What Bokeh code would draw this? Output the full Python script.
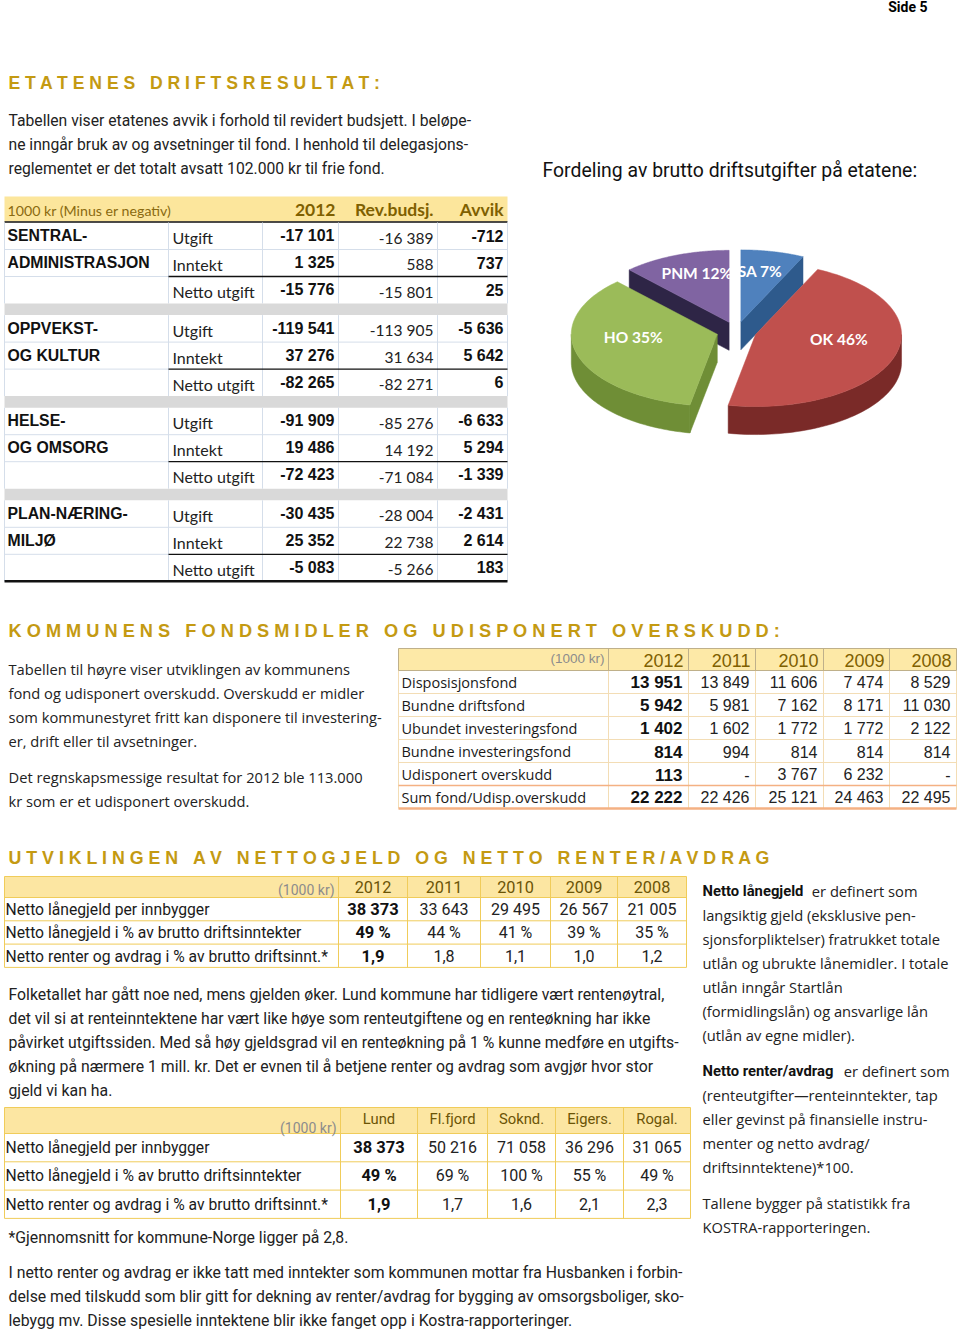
import numpy as np
from bokeh.plotting import figure
from bokeh.models import Range1d, ColumnDataSource
from bokeh.core.properties import value
from bokeh.embed import file_html
from bokeh.resources import INLINE

# ---------------- data ----------------
t1_sector_l1 = ["SENTRAL-", "OPPVEKST-", "HELSE-", "PLAN-NÆRING-"]
t1_sector_l2 = ["ADMINISTRASJON", "OG KULTUR", "OG OMSORG", "MILJØ"]
t1_types = ["Utgift", "Inntekt", "Netto utgift"]
t1_headers = ["2012", "Rev.budsj.", "Avvik"]
t1_2012 = [[-17101, 1325, -15776], [-119541, 37276, -82265],
           [-91909, 19486, -72423], [-30435, 25352, -5083]]
t1_rev = [[-16389, 588, -15801], [-113905, 31634, -82271],
          [-85276, 14192, -71084], [-28004, 22738, -5266]]
t1_avvik = [[-712, 737, 25], [-5636, 5642, 6],
            [-6633, 5294, -1339], [-2431, 2614, 183]]

pie_labels = ["SA", "OK", "HO", "PNM"]
pie_pct = [7, 46, 35, 12]

t2_rows = ["Disposisjonsfond", "Bundne driftsfond", "Ubundet investeringsfond",
           "Bundne investeringsfond", "Udisponert overskudd", "Sum fond/Udisp.overskudd"]
t2_years = ["2012", "2011", "2010", "2009", "2008"]
t2_disp = [13951, 13849, 11606, 7474, 8529]
t2_bdrift = [5942, 5981, 7162, 8171, 11030]
t2_ubinv = [1402, 1602, 1772, 1772, 2122]
t2_binv = [814, 994, 814, 814, 814]
t2_udisp = [113, None, 3767, 6232, None]
t2_sum = [22222, 22426, 25121, 24463, 22495]

t3_rows = ["Netto lånegjeld per innbygger",
           "Netto lånegjeld i % av brutto driftsinntekter",
           "Netto renter og avdrag i % av brutto driftsinnt.*"]
t3_years = ["2012", "2011", "2010", "2009", "2008"]
t3_gjeld = [38373, 33643, 29495, 26567, 21005]
t3_gjeld_pct = [49, 44, 41, 39, 35]
t3_renter = [1.9, 1.8, 1.1, 1.0, 1.2]

t4_munis = ["Lund", "Fl.fjord", "Soknd.", "Eigers.", "Rogal."]
t4_gjeld = [38373, 50216, 71058, 36296, 31065]
t4_gjeld_pct = [49, 69, 100, 55, 49]
t4_renter = [1.9, 1.7, 1.6, 2.1, 2.3]

# ---------------- helpers ----------------
COND = "Roboto"
SANS = "Liberation Sans"
BODY = "Open Sans"
CAL = "Lato"
GOLD = "#C49A12"

p = figure(width=960, height=1330, x_range=Range1d(0, 960), y_range=Range1d(1330, 0),
           output_backend="svg", toolbar_location=None, min_border=0)
p.axis.visible = False
p.grid.visible = False
p.outline_line_color = None
p.background_fill_color = "white"
p.border_fill_color = "white"


def txt(xs, ys, texts, size, font=SANS, bold=False, color="#222222", align="left", baseline="middle"):
    src = ColumnDataSource(dict(x=list(xs), y=list(ys), t=list(texts)))
    p.text(x="x", y="y", text="t", source=src, text_font=value(font),
           text_font_size=f"{size:.1f}px", text_font_style="bold" if bold else "normal",
           text_color=color, text_align=align, text_baseline=baseline)


def hline(x0, x1, y, color, w=1.0):
    p.segment(x0=[x0], y0=[y], x1=[x1], y1=[y], line_color=color, line_width=w)


def vline(x, y0, y1, color, w=1.0):
    p.segment(x0=[x], y0=[y0], x1=[x], y1=[y1], line_color=color, line_width=w)


def box(l, r, t, b, color):
    p.quad(left=[l], right=[r], top=[t], bottom=[b], fill_color=color, line_color=None)


def fint(v):
    return "-" if v is None else f"{v:,}".replace(",", " ")


def fpct(v):
    return f"{v} %"


def fdec(v):
    return f"{v:.1f}".replace(".", ",")


def spaced(s, gap=3):
    return ("\u00a0" * gap).join(" ".join(w) for w in s.split(" "))


# ---------------- page header / headings ----------------
txt([927], [6], ["Side 5"], 14, COND, True, "#000000", "right")
txt([8], [82], [spaced("ETATENES DRIFTSRESULTAT:")], 17.6, SANS, True, GOLD)
txt([8], [630], [spaced("KOMMUNENS FONDSMIDLER OG UDISPONERT OVERSKUDD:")], 18.2, SANS, True, GOLD)
txt([8], [857], [spaced("UTVIKLINGEN AV NETTOGJELD OG NETTO RENTER/AVDRAG")], 17.8, SANS, True, GOLD)

para1 = ["Tabellen viser etatenes avvik i forhold til revidert budsjett. I beløpe-",
         "ne inngår bruk av og avsetninger til fond. I henhold til delegasjons-",
         "reglementet er det totalt avsatt 102.000 kr til frie fond."]
txt([8] * 3, [120, 144, 168], para1, 15.7, COND, False, "#222222")
txt([542], [170], ["Fordeling av brutto driftsutgifter på etatene:"], 19.4, COND, False, "#111111")

# ---------------- table 1 ----------------
T1_X = [4, 168, 262, 338, 437, 507]
T1_HEAD = (196, 221)
T1_G0, T1_GSTEP, T1_ROWH = 222, 92.6, 27
LIGHT1 = "#D5DEEA"

box(T1_X[0], T1_X[-1], T1_HEAD[0], T1_HEAD[1], "#FCE69C")
txt([7], [210], ["1000 kr (Minus er negativ)"], 14.2, CAL, False, "#8A6A10")
txt([T1_X[3] - 3, T1_X[4] - 4, T1_X[5] - 4], [209] * 3, t1_headers, 17.5, CAL, True, "#7F6000", "right")
hline(T1_X[0], T1_X[-1], 221.5, "#111111", 1.3)

n_x, n_y, n_t = [], [], []
ty_x, ty_y, ty_t = [], [], []
b_x, b_y, b_t = [], [], []
r_x, r_y, r_t = [], [], []
for g in range(4):
    gs = T1_G0 + g * T1_GSTEP
    ge = gs + 3 * T1_ROWH
    hline(T1_X[0], T1_X[-1], gs + T1_ROWH, LIGHT1, 1)
    hline(T1_X[0], T1_X[1], gs + 2 * T1_ROWH, LIGHT1, 1)
    for xv in T1_X:
        vline(xv, gs, ge, LIGHT1, 1)
    hline(T1_X[1], T1_X[-1], gs + 2 * T1_ROWH, "#111111", 1.3)
    if g < 3:
        box(T1_X[0], T1_X[-1], ge, gs + T1_GSTEP, "#D9D9D9")
    else:
        hline(T1_X[0], T1_X[-1], ge, "#111111", 2.5)
    n_x += [7, 7]
    n_y += [gs + 13, gs + 40]
    n_t += [t1_sector_l1[g], t1_sector_l2[g]]
    for r in range(3):
        ty_x.append(T1_X[1] + 4)
        ty_y.append(gs + 15 + r * T1_ROWH)
        ty_t.append(t1_types[r])
        b_x += [T1_X[3] - 4, T1_X[5] - 4]
        b_y += [gs + 13 + r * T1_ROWH] * 2
        b_t += [fint(t1_2012[g][r]), fint(t1_avvik[g][r])]
        r_x.append(T1_X[4] - 4)
        r_y.append(gs + 15 + r * T1_ROWH)
        r_t.append(fint(t1_rev[g][r]))
txt(n_x, n_y, n_t, 15.8, SANS, True, "#111111")
txt(ty_x, ty_y, ty_t, 16, CAL, False, "#222222")
txt(b_x, b_y, b_t, 16, SANS, True, "#111111", "right")
txt(r_x, r_y, r_t, 15.5, CAL, False, "#222222", "right")

# ---------------- 3D pie ----------------
top_cols = ["#4F81BD", "#C0504D", "#9BBB59", "#8064A2"]
side_cols = ["#2E5A8C", "#7A2A28", "#6F8E36", "#2E2546"]
cx, cy, rx, ry, depth, expl = 736, 331, 146, 72, 28, 20
kk = ry / rx
cum = np.concatenate([[0], np.cumsum(pie_pct)]) / sum(pie_pct) * 360.0
slices = []
for i in range(len(pie_pct)):
    a1, a2 = cum[i], cum[i + 1]
    mid = np.radians((a1 + a2) / 2)
    ox = expl * np.sin(mid)
    oy = -expl * kk * np.cos(mid)
    slices.append((oy, i, a1, a2, ox, mid))


def pt(ox, oy, a, dz=0.0):
    ar = np.radians(a)
    return cx + ox + rx * np.sin(ar), cy + oy - ry * np.cos(ar) + dz


lab_x, lab_y, lab_t = [], [], []
for oy, i, a1, a2, ox, mid in sorted(slices):
    side_xs, side_ys = [], []
    C = (cx + ox, cy + oy)
    if np.sin(np.radians(a1)) < -1e-6:
        P0 = pt(ox, oy, a1)
        P1 = pt(ox, oy, a1, depth)
        side_xs.append([C[0], P0[0], P1[0], C[0]])
        side_ys.append([C[1], P0[1], P1[1], C[1] + depth])
    if np.sin(np.radians(a2)) > 1e-6:
        P0 = pt(ox, oy, a2)
        P1 = pt(ox, oy, a2, depth)
        side_xs.append([C[0], P0[0], P1[0], C[0]])
        side_ys.append([C[1], P0[1], P1[1], C[1] + depth])
    lo, hi = max(a1, 90.0), min(a2, 270.0)
    if hi > lo:
        arc = np.linspace(lo, hi, 60)
        tx = [pt(ox, oy, a)[0] for a in arc]
        tyv = [pt(ox, oy, a)[1] for a in arc]
        side_xs.append(tx + tx[::-1])
        side_ys.append(tyv + [v + depth for v in tyv[::-1]])
    if side_xs:
        p.patches(xs=side_xs, ys=side_ys, fill_color=side_cols[i], line_color=side_cols[i], line_width=0.5)
    arc = np.linspace(a1, a2, 80)
    fx = [C[0]] + [pt(ox, oy, a)[0] for a in arc]
    fy = [C[1]] + [pt(ox, oy, a)[1] for a in arc]
    p.patch(x=fx, y=fy, fill_color=top_cols[i], line_color=top_cols[i], line_width=0.5)
    lab_x.append(C[0] + 0.6 * rx * np.sin(mid))
    lab_y.append(C[1] - 0.6 * ry * np.cos(mid) - 9)
    lab_t.append(f"{pie_labels[i]} {pie_pct[i]}%")
txt(lab_x, lab_y, lab_t, 15.5, CAL, True, "white", "center")

# ---------------- section 2 text ----------------
para2 = ["Tabellen til høyre viser utviklingen av  kommunens",
         "fond og udisponert overskudd.  Overskudd er midler",
         "som kommunestyret fritt kan disponere til investering-",
         "er, drift eller til avsetninger."]
txt([8] * 4, [668, 692, 716, 740], para2, 14.7, BODY, False, "#222222")
para3 = ["Det regnskapsmessige resultat for 2012 ble 113.000",
         "kr som er et udisponert overskudd."]
txt([8] * 2, [776, 800], para3, 14.7, BODY, False, "#222222")

# ---------------- table 2 ----------------
T2_X = [398, 608, 688, 755, 823, 889, 956]
T2_TOP, T2_HEADH, T2_ROWH = 648, 22, 23
T2_HB = T2_TOP + T2_HEADH
t2_vals = [t2_disp, t2_bdrift, t2_ubinv, t2_binv, t2_udisp, t2_sum]
box(T2_X[0], T2_X[-1], T2_TOP, T2_HB, "#FDE9A7")
GRID2 = "#F3DDB5"
for i in range(1, 5):
    hline(T2_X[0], T2_X[-1], T2_HB + i * T2_ROWH, GRID2, 1)
for xv in T2_X:
    vline(xv, T2_HB, T2_HB + 6 * T2_ROWH, GRID2, 1)
    vline(xv, T2_TOP, T2_HB, "#BFB08A", 1)
hline(T2_X[0], T2_X[-1], T2_TOP, "#BFB08A", 1)
hline(T2_X[0], T2_X[-1], T2_HB, "#BFB08A", 1)
hline(T2_X[0], T2_X[-1], T2_HB + 5 * T2_ROWH, "#F4B183", 1.5)
hline(T2_X[0], T2_X[-1], T2_HB + 6 * T2_ROWH, "#F4B183", 2.5)
txt([T2_X[1] - 4], [T2_TOP + 10], ["(1000 kr)"], 13.5, SANS, False, "#8C8C8C", "right")
txt([T2_X[j + 2] - 5 for j in range(5)], [T2_TOP + 12] * 5, t2_years, 18, SANS, False, "#7F6000", "right")
txt([401] * 6, [T2_HB + 12 + i * T2_ROWH for i in range(6)], t2_rows, 14.5, BODY, False, "#1A1A1A")
bx, by, bt, vx, vy, vt = [], [], [], [], [], []
for i, row in enumerate(t2_vals):
    yc = T2_HB + 12 + i * T2_ROWH
    for j, v in enumerate(row):
        if j == 0:
            bx.append(T2_X[2] - 6); by.append(yc); bt.append(fint(v))
        else:
            vx.append(T2_X[j + 2] - 6); vy.append(yc); vt.append(fint(v))
txt(bx, by, bt, 17, SANS, True, "#111111", "right")
txt(vx, vy, vt, 16, SANS, False, "#222222", "right")

# ---------------- table 3 ----------------
T3_X = [4, 338, 407, 480, 550, 617, 686]
T3_TOP, T3_HEADH, T3_ROWH = 876, 21, 23.3
T3_HB = T3_TOP + T3_HEADH
GRID3 = "#F0CC5A"
box(T3_X[0], T3_X[-1], T3_TOP, T3_HB, "#FCE6A2")
for i in range(4):
    hline(T3_X[0], T3_X[-1], T3_HB + i * T3_ROWH, GRID3, 1)
hline(T3_X[0], T3_X[-1], T3_TOP, GRID3, 1)
for xv in T3_X:
    vline(xv, T3_TOP, T3_HB + 3 * T3_ROWH, GRID3, 1)
txt([T3_X[1] - 4], [T3_TOP + 13], ["(1000 kr)"], 14, COND, False, "#8C8C8C", "right")
txt([(T3_X[j + 1] + T3_X[j + 2]) / 2 for j in range(5)], [T3_TOP + 10] * 5, t3_years, 16.3, COND, False, "#6B5406", "center")
txt([5] * 3, [T3_HB + 12 + i * T3_ROWH for i in range(3)], t3_rows, 15.7, COND, False, "#1A1A1A")
t3_fmt = [[fint(v) for v in t3_gjeld], [fpct(v) for v in t3_gjeld_pct], [fdec(v) for v in t3_renter]]
bx, by, bt, vx, vy, vt = [], [], [], [], [], []
for i, row in enumerate(t3_fmt):
    yc = T3_HB + 12 + i * T3_ROWH
    for j, s in enumerate(row):
        xc = (T3_X[j + 1] + T3_X[j + 2]) / 2
        if j == 0:
            bx.append(xc); by.append(yc); bt.append(s)
        else:
            vx.append(xc); vy.append(yc); vt.append(s)
txt(bx, by, bt, 16.5, COND, True, "#111111", "center")
txt(vx, vy, vt, 16, COND, False, "#222222", "center")

# ---------------- section 3 text ----------------
para4 = ["Folketallet har gått noe ned, mens gjelden øker. Lund kommune har tidligere vært rentenøytral,",
         "det vil si at renteinntektene har vært like høye som renteutgiftene og en renteøkning har ikke",
         "påvirket utgiftssiden. Med så høy gjeldsgrad vil en renteøkning på 1 % kunne medføre en utgifts-",
         "økning på nærmere 1 mill. kr. Det er evnen til å betjene renter og avdrag som avgjør hvor stor",
         "gjeld vi kan ha."]
txt([8] * 5, [994, 1018, 1042, 1066, 1090], para4, 15.8, COND, False, "#222222")

right1 = ["langsiktig gjeld (eksklusive pen-",
          "sjonsforpliktelser) fratrukket totale",
          "utlån og ubrukte lånemidler. I totale",
          "utlån inngår Startlån",
          "(formidlingslån) og ansvarlige lån",
          "(utlån av egne midler)."]
right2 = ["(renteutgifter\u2014renteinntekter, tap",
          "eller gevinst på finansielle instru-",
          "menter og netto avdrag/",
          "driftsinntektene)*100."]
right3 = ["Tallene bygger på statistikk fra", "KOSTRA-rapporteringen."]
txt([702, 702], [890, 1070], ["Netto lånegjeld", "Netto renter/avdrag"], 14.8, COND, True, "#111111")
txt([917, 949], [890, 1070], ["er definert som", "er definert som"], 14.7, BODY, False, "#222222", "right")
txt([702] * 6, [914, 938, 962, 986, 1010, 1034], right1, 14.7, BODY, False, "#222222")
txt([702] * 4, [1094, 1118, 1142, 1166], right2, 14.7, BODY, False, "#222222")
txt([702] * 2, [1202, 1226], right3, 14.7, BODY, False, "#222222")

# ---------------- table 4 ----------------
T4_X = [4, 340, 417, 487, 555, 623, 690]
T4_TOP, T4_HEADH, T4_ROWH = 1107, 26, 28.3
T4_HB = T4_TOP + T4_HEADH
box(T4_X[0], T4_X[-1], T4_TOP, T4_HB, "#FCE6A2")
for i in range(4):
    hline(T4_X[0], T4_X[-1], T4_HB + i * T4_ROWH, GRID3, 1)
hline(T4_X[0], T4_X[-1], T4_TOP, GRID3, 1)
for xv in T4_X:
    vline(xv, T4_TOP, T4_HB + 3 * T4_ROWH, GRID3, 1)
txt([T4_X[1] - 4], [T4_TOP + 20], ["(1000 kr)"], 14, COND, False, "#8C8C8C", "right")
txt([(T4_X[j + 1] + T4_X[j + 2]) / 2 for j in range(5)], [T4_TOP + 11] * 5, t4_munis, 14.8, COND, False, "#6B5406", "center")
txt([5] * 3, [T4_HB + 14 + i * T4_ROWH for i in range(3)], t3_rows, 15.7, COND, False, "#1A1A1A")
t4_fmt = [[fint(v) for v in t4_gjeld], [fpct(v) for v in t4_gjeld_pct], [fdec(v) for v in t4_renter]]
bx, by, bt, vx, vy, vt = [], [], [], [], [], []
for i, row in enumerate(t4_fmt):
    yc = T4_HB + 14 + i * T4_ROWH
    for j, s in enumerate(row):
        xc = (T4_X[j + 1] + T4_X[j + 2]) / 2
        if j == 0:
            bx.append(xc); by.append(yc); bt.append(s)
        else:
            vx.append(xc); vy.append(yc); vt.append(s)
txt(bx, by, bt, 16.5, COND, True, "#111111", "center")
txt(vx, vy, vt, 16, COND, False, "#222222", "center")

txt([8], [1237], ["*Gjennomsnitt for kommune-Norge ligger på 2,8."], 15.8, COND, False, "#222222")
para5 = ["I netto renter og avdrag er ikke tatt med inntekter som kommunen mottar fra Husbanken i forbin-",
         "delse med tilskudd som blir gitt for dekning av renter/avdrag for bygging av omsorgsboliger, sko-",
         "lebygg mv. Disse spesielle inntektene blir ikke fanget opp i Kostra-rapporteringer."]
txt([8] * 3, [1272, 1296, 1320], para5, 15.8, COND, False, "#222222")

open("out.html", "w").write(file_html(p, INLINE))
